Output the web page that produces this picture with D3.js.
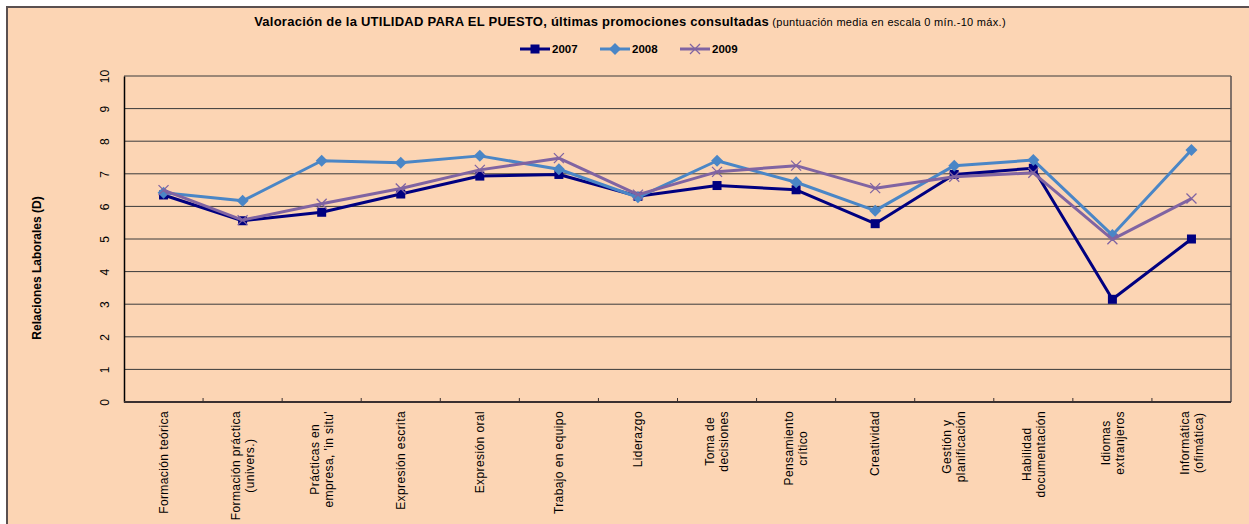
<!DOCTYPE html>
<html>
<head>
<meta charset="utf-8">
<script src="https://cdn.jsdelivr.net/npm/d3@7"></script>
<style>
  body { margin: 0; background: #ffffff; }
  svg { display: block; font-family: "Liberation Sans", Arial, sans-serif; }
</style>
</head>
<body>
<div id="chart"></div>
<script>
// categories (x axis), each label split into its lines
const categories = [
  ["Formación teórica"],
  ["Formación práctica", "(univers.)"],
  ["Prácticas en", "empresa, 'in situ'"],
  ["Expresión escrita"],
  ["Expresión oral"],
  ["Trabajo en equipo"],
  ["Liderazgo"],
  ["Toma de", "decisiones"],
  ["Pensamiento", "crítico"],
  ["Creatividad"],
  ["Gestión y", "planificación"],
  ["Habilidad", "documentación"],
  ["Idiomas", "extranjeros"],
  ["Informática", "(ofimática)"]
];
const seriesNames = ["2007", "2008", "2009"];
const values2007 = [6.35, 5.56, 5.82, 6.38, 6.93, 6.98, 6.31, 6.64, 6.51, 5.47, 6.98, 7.17, 3.15, 5.00];
const values2008 = [6.42, 6.17, 7.40, 7.34, 7.55, 7.14, 6.28, 7.40, 6.74, 5.87, 7.25, 7.42, 5.12, 7.73];
const values2009 = [6.50, 5.58, 6.08, 6.55, 7.12, 7.48, 6.36, 7.06, 7.25, 6.56, 6.91, 7.03, 4.99, 6.24];
const yTicks = [0, 1, 2, 3, 4, 5, 6, 7, 8, 9, 10];

const W = 1249, H = 524;
const margin = { top: 76, right: 18, bottom: 122, left: 124 };
const width = W - margin.left - margin.right,
      height = H - margin.top - margin.bottom;

const bg = "#FCD5B4";
const colors = { "2007": "#000080", "2008": "#4A86C6", "2009": "#8064A2" };
const series = [
  { name: "2007", values: values2007, marker: "square" },
  { name: "2008", values: values2008, marker: "diamond" },
  { name: "2009", values: values2009, marker: "cross" }
];

const svgRoot = d3.select("#chart").append("svg")
    .attr("width", W)
    .attr("height", H);

// chart background and frame
svgRoot.append("rect").attr("x", 7).attr("y", 7).attr("width", W - 7).attr("height", H - 7).attr("fill", bg);
svgRoot.append("path").attr("d", `M7,${H} V7 H${W}`).attr("fill", "none")
    .attr("stroke", "#5a5050").attr("stroke-width", 2);

// title
const title = svgRoot.append("text")
    .attr("x", 630).attr("y", 26)
    .attr("text-anchor", "middle")
    .attr("fill", "#000");
title.append("tspan").attr("font-weight", "bold").attr("font-size", 13)
    .attr("letter-spacing", 0.25)
    .text("Valoración de la UTILIDAD PARA EL PUESTO, últimas promociones consultadas");
title.append("tspan").attr("font-size", 11).attr("letter-spacing", 0.3)
    .text(" (puntuación media en escala 0 mín.-10 máx.)");

const svg = svgRoot.append("g")
    .attr("transform", "translate(" + margin.left + "," + margin.top + ")");

const x = d3.scaleBand()
    .domain(d3.range(categories.length))
    .range([0, width]);
const y = d3.scaleLinear()
    .domain([0, 10])
    .range([height, 0]);

// gridlines
svg.append("g")
    .selectAll("line")
    .data(yTicks)
    .enter()
    .append("line")
    .attr("x1", 0).attr("x2", width)
    .attr("y1", d => y(d)).attr("y2", d => y(d))
    .attr("stroke", "#3a3a3a")
    .attr("stroke-width", 1);

// right border of plot area
svg.append("line")
    .attr("x1", width).attr("x2", width)
    .attr("y1", 0).attr("y2", height)
    .attr("stroke", "#5a5050").attr("stroke-width", 1.5);

// y axis
const yAxis = svg.append("g")
    .call(d3.axisLeft(y).tickValues(yTicks).tickSize(0).tickPadding(0));
yAxis.select(".domain").attr("stroke", "#000").attr("stroke-width", 1.5);
yAxis.selectAll(".tick text")
    .attr("font-size", 12)
    .attr("font-family", "Liberation Sans, Arial, sans-serif")
    .attr("fill", "#000")
    .attr("text-anchor", "middle")
    .attr("transform", "translate(-19,0) rotate(-90)")
    .attr("x", 0).attr("dy", "0.35em");

// x axis with inward ticks on category boundaries
const xAxis = svg.append("g")
    .attr("transform", "translate(0," + height + ")");
xAxis.append("line")
    .attr("x1", 0).attr("x2", width)
    .attr("stroke", "#3a3030").attr("stroke-width", 2);
xAxis.selectAll(".xtick")
    .data(d3.range(1, categories.length))
    .enter()
    .append("line")
    .attr("x1", d => x(d)).attr("x2", d => x(d))
    .attr("y1", 0).attr("y2", -4)
    .attr("stroke", "#3a3030").attr("stroke-width", 1);

// x labels, rotated, block aligned near axis, lines centred
const labelGroups = xAxis.selectAll(".xlabel")
    .data(categories)
    .enter()
    .append("g")
    .attr("class", "xlabel");
labelGroups.each(function (lines, i) {
    const g = d3.select(this);
    const n = lines.length;
    const lineH = 14;
    const texts = lines.map((t, j) => g.append("text")
        .attr("font-size", 12)
        .attr("letter-spacing", 0.4)
        .attr("fill", "#000")
        .attr("text-anchor", "middle")
        .attr("dy", "0.35em")
        .text(t));
    const maxLen = d3.max(texts, t => t.node().getComputedTextLength());
    const cx = x(i) + x.bandwidth() / 2;
    texts.forEach((t, j) => {
        const off = (j - (n - 1) / 2) * lineH;
        t.attr("transform", `translate(${cx + off},${9 + maxLen / 2}) rotate(-90)`);
    });
});

// y axis title
svg.append("text")
    .attr("transform", `translate(${37 - margin.left},${268 - margin.top}) rotate(-90)`)
    .attr("text-anchor", "middle")
    .attr("dy", "0.35em")
    .attr("font-size", 12)
    .attr("font-weight", "bold")
    .text("Relaciones Laborales (D)");

// lines and markers
const line = d3.line()
    .x((d, i) => x(i) + x.bandwidth() / 2)
    .y(d => y(d));

function drawMarker(g, type, color) {
    if (type === "square") {
        g.append("rect").attr("x", -4.5).attr("y", -4.5).attr("width", 9).attr("height", 9)
            .attr("fill", color);
    } else if (type === "diamond") {
        g.append("path").attr("d", "M0,-6 L6,0 L0,6 L-6,0 Z").attr("fill", color);
    } else {
        g.append("path").attr("d", "M-5,-5 L5,5 M-5,5 L5,-5")
            .attr("stroke", color).attr("stroke-width", 1.3).attr("fill", "none");
    }
}

series.forEach(s => {
    const g = svg.append("g");
    g.append("path")
        .datum(s.values)
        .attr("d", line)
        .attr("fill", "none")
        .attr("stroke", colors[s.name])
        .attr("stroke-width", 3)
        .attr("stroke-linejoin", "round");
    g.selectAll(".pt")
        .data(s.values)
        .enter()
        .append("g")
        .attr("transform", (d, i) => `translate(${x(i) + x.bandwidth() / 2},${y(d)})`)
        .each(function () { drawMarker(d3.select(this), s.marker, colors[s.name]); });
});

// legend
const legendX = [520, 600, 680];
series.forEach((s, i) => {
    const lg = svgRoot.append("g").attr("transform", `translate(${legendX[i]},49)`);
    lg.append("line").attr("x1", 0).attr("x2", 30)
        .attr("stroke", colors[s.name]).attr("stroke-width", 3);
    const m = lg.append("g").attr("transform", "translate(15,0)");
    drawMarker(m, s.marker, colors[s.name]);
    lg.append("text").attr("x", 32).attr("dy", "0.35em")
        .attr("font-size", 11.5).attr("font-weight", "bold")
        .text(s.name);
});
</script>
</body>
</html>
